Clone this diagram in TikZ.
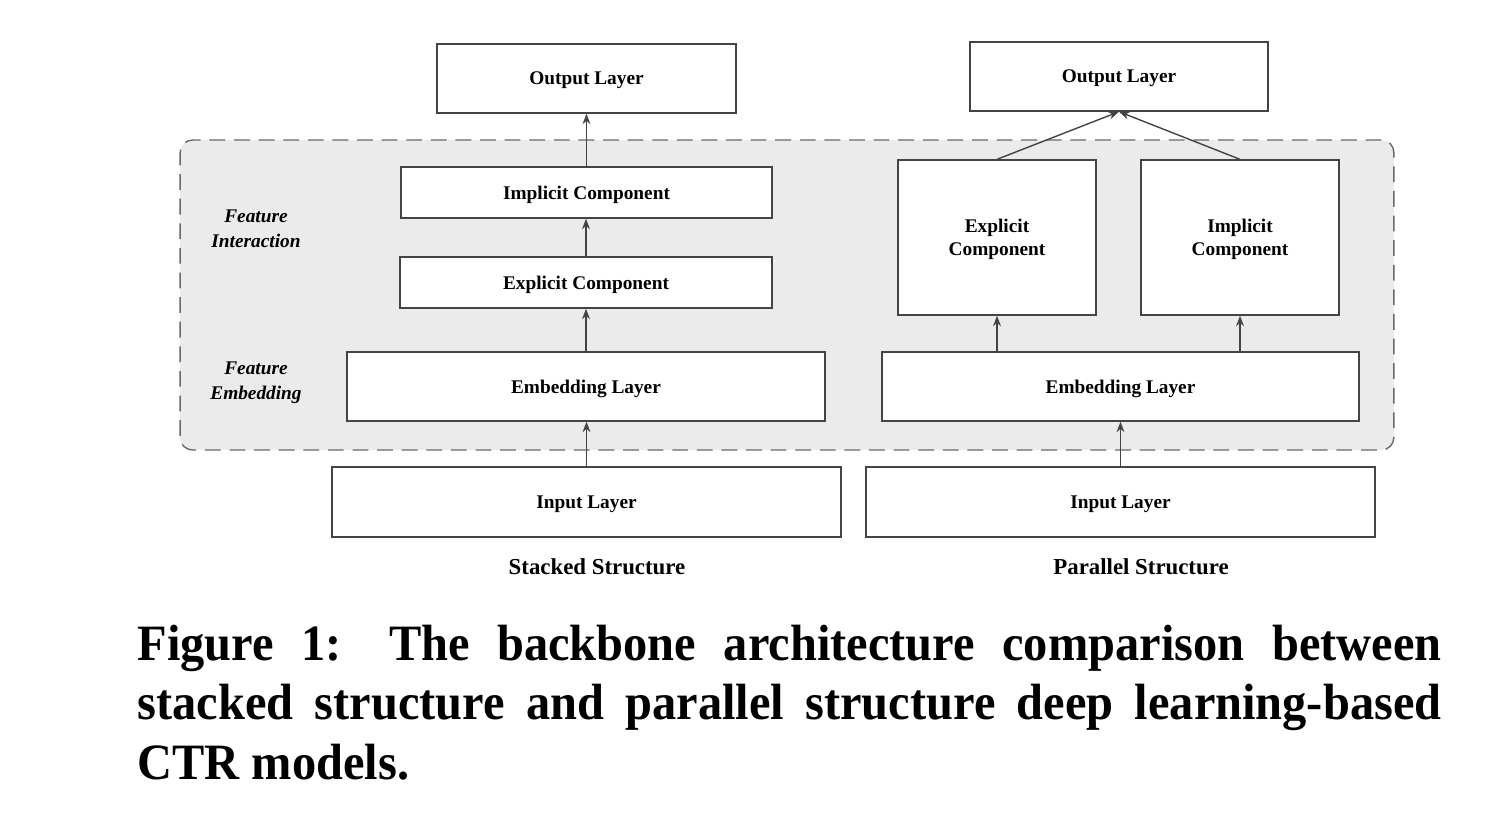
\documentclass[tikz,border=0pt]{standalone}
\usepackage{fontspec}
\setmainfont{Liberation Serif}
\newfontfamily\capfont[FakeStretch=0.95]{Liberation Serif}
\usetikzlibrary{arrows.meta}
\definecolor{linegray}{HTML}{444444}
\definecolor{regiongray}{HTML}{EBEBEB}

\begin{document}
\begin{tikzpicture}[
            x=0.02cm, y=-0.02cm, % one unit = one pixel of the sketch
            -{Stealth[length=6pt, width=4.5pt]}, % arrow head style
            line width=0.8pt,
            draw=linegray,
            box/.style = {draw=linegray, fill=white, rectangle, inner sep=0pt, text depth=-2.2pt,
                          font=\fontsize{11}{13}\selectfont\bfseries, align=center},
            side/.style = {font=\fontsize{11}{14}\selectfont\bfseries\itshape, align=center},
            title/.style = {font=\fontsize{13}{15}\selectfont\bfseries}
            ]
            \useasboundingbox (0,0) rectangle (1488,826);

            % grey dashed region round the two middle layers
            \node[draw=linegray!80, dashed, dash pattern=on 9pt off 5pt, fill=regiongray,
                  rounded corners=0.25cm, minimum width=24.28cm, minimum height=6.2cm]
                  (region) at (787,295) {};

            % stacked structure
            \node[box, minimum width=5.98cm, minimum height=1.38cm] (outS) at (586.5,78.5) {Output Layer};
            \node[box, minimum width=7.42cm, minimum height=1.02cm] (impS) at (586.5,192.5) {Implicit Component};
            \node[box, minimum width=7.44cm, minimum height=1.02cm] (expS) at (586,282.5) {Explicit Component};
            \node[box, minimum width=9.56cm, minimum height=1.38cm] (embS) at (586,386.5) {Embedding Layer};
            \node[box, minimum width=10.18cm, minimum height=1.40cm] (inS) at (586.5,502) {Input Layer};

            % parallel structure
            \node[box, minimum width=5.96cm, minimum height=1.38cm] (outP) at (1119,76.5) {Output Layer};
            \node[box, minimum width=3.96cm, minimum height=3.10cm] (expP) at (997,237.5) {Explicit\\Component};
            \node[box, minimum width=3.96cm, minimum height=3.10cm] (impP) at (1240,237.5) {Implicit\\Component};
            \node[box, minimum width=9.54cm, minimum height=1.38cm] (embP) at (1120.5,386.5) {Embedding Layer};
            \node[box, minimum width=10.18cm, minimum height=1.40cm] (inP) at (1120.5,502) {Input Layer};

            % side labels and titles
            \node[side] (fint) at (256,229) {Feature\\Interaction};
            \node[side] (femb) at (256,383) {Feature\\Embedding};
            \node[title] (tS) at (597,567) {Stacked Structure};
            \node[title] (tP) at (1141,567) {Parallel Structure};

            % caption
            \node[anchor=north west, inner sep=0pt, text width=26.08cm, align=justify,
                  font=\capfont\fontsize{29}{34}\selectfont\bfseries] (cap) at (137,624)
                  {Figure 1: The backbone architecture comparison between\linebreak
                   stacked structure and parallel structure deep learning-based\linebreak
                   CTR models.};

            \draw (inS.north) -- (inS.north |- embS.south);
            \draw (embS.north) -- (embS.north |- expS.south);
            \draw (expS.north) -- (expS.north |- impS.south);
            \draw (impS.north) -- (impS.north |- outS.south);

            \draw (inP.north) -- (inP.north |- embP.south);
            \draw (expP.south |- embP.north) -- (expP.south);
            \draw (impP.south |- embP.north) -- (impP.south);
            \draw (expP.north) -- (outP.south);
            \draw (impP.north) -- (outP.south);
        \end{tikzpicture}
\end{document}
